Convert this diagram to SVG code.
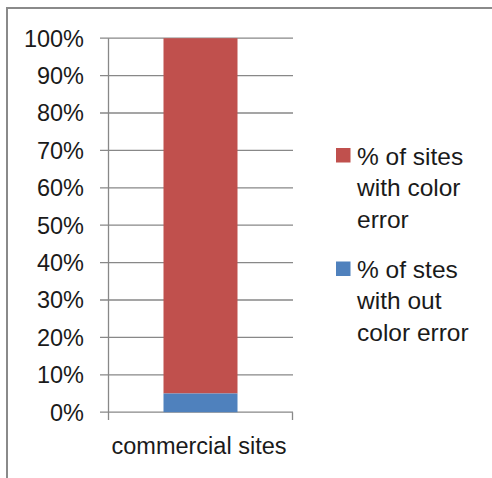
<svg xmlns="http://www.w3.org/2000/svg" width="492" height="478" viewBox="0 0 492 478">
<style>
.t{font-family:"Liberation Sans",Arial,sans-serif;font-size:23.5px;fill:#1a1a1a}
.l{font-size:24.5px}
.g{stroke:#888;stroke-width:1.3;fill:none}
</style>
<rect width="492" height="478" fill="#fff"/>
<path d="M7 478V8H492" fill="none" stroke="#8a8a8a" stroke-width="2"/>
<g id="grid" class="g">
<path d="M100 38.2H293M100 75.6H293M100 113H293M100 150.4H293M100 187.8H293M100 225.2H293M100 262.6H293M100 300H293M100 337.4H293M100 374.8H293M100 412.2H293"/>
<path d="M108.5 38.2V420M292.5 412.2V420"/>
</g>
<g id="axis-labels" class="t" text-anchor="end">
<text x="84" y="46.5">100%</text>
<text x="84" y="83.9">90%</text>
<text x="84" y="121.3">80%</text>
<text x="84" y="158.7">70%</text>
<text x="84" y="196.1">60%</text>
<text x="84" y="233.5">50%</text>
<text x="84" y="270.9">40%</text>
<text x="84" y="308.3">30%</text>
<text x="84" y="345.7">20%</text>
<text x="84" y="383.1">10%</text>
<text x="84" y="420.5">0%</text>
</g>
<g id="bar">
<rect x="163.5" y="38.2" width="74" height="355.3" fill="#C0504D"/>
<rect x="163.5" y="393.5" width="74" height="18.7" fill="#4F81BD"/>
</g>
<text class="t" x="199" y="454" text-anchor="middle">commercial sites</text>
<g id="legend-1">
<rect x="336" y="148" width="14.5" height="14.5" fill="#C0504D"/>
<text class="t l" x="357" y="164.5">% of sites</text>
<text class="t l" x="357" y="196">with color</text>
<text class="t l" x="357" y="227.5">error</text>
</g>
<g id="legend-2">
<rect x="336" y="261.5" width="14.5" height="14.5" fill="#4F81BD"/>
<text class="t l" x="357" y="277.5">% of stes</text>
<text class="t l" x="357" y="309">with out</text>
<text class="t l" x="357" y="340.5">color error</text>
</g>
</svg>
